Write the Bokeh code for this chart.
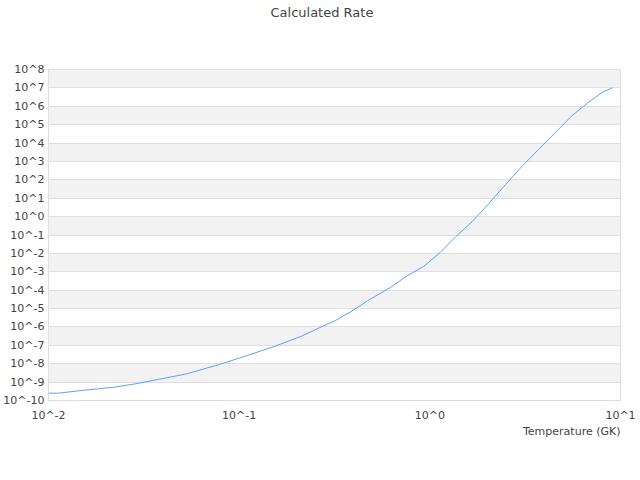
from bokeh.plotting import figure
from bokeh.models import FixedTicker, CustomJSTickFormatter, Title
from bokeh.embed import file_html
from bokeh.resources import INLINE

# Data
temperature_gk = [0.01, 0.0113, 0.0149, 0.0221, 0.0292, 0.0402, 0.053, 0.0787,
                  0.108, 0.155, 0.213, 0.259, 0.316, 0.386, 0.470, 0.621,
                  0.757, 0.925, 1.13, 1.37, 1.67, 2.05, 2.49, 3.04, 3.71,
                  4.52, 5.51, 6.73, 8.04, 9.06]
rate = [2.5e-10, 2.5e-10, 3.5e-10, 5.3e-10, 8.4e-10, 1.6e-9, 2.8e-9, 9.1e-9,
        2.6e-8, 9.1e-8, 3.2e-7, 8.3e-7, 2.1e-6, 6.8e-6, 2.6e-5, 1.4e-4,
        5.9e-4, 1.9e-3, 1.1e-2, 8.3e-2, 0.54, 5.5, 54.0, 537.0, 4.4e3,
        3.5e4, 2.8e5, 1.55e6, 5.75e6, 1.0e7]
x_ticks = [0.01, 0.1, 1.0, 10.0]
y_ticks = [10.0 ** k for k in range(-10, 9)]
title_text = "Calculated Rate"
x_label = "Temperature (GK)"

p = figure(
    output_backend="svg", toolbar_location=None,
    x_axis_type="log", y_axis_type="log",
    x_range=(0.01, 10.0), y_range=(1e-10, 1e8),
    width=640, height=460,
    min_border_left=0, min_border_right=20,
    min_border_top=69, min_border_bottom=60,
    title=title_text,
)
p.background_fill_color = "white"
p.border_fill_color = "white"
p.outline_line_color = "#dddddd"
p.outline_line_width = 1

xax = p.below[0]
yax = p.left[0]

fmt = CustomJSTickFormatter(code='return "10^" + Math.round(Math.log10(tick));')

for ax, ticks in ((xax, x_ticks), (yax, y_ticks)):
    ax.ticker = FixedTicker(ticks=ticks, minor_ticks=[])
    ax.formatter = fmt
    ax.major_tick_line_color = None
    ax.minor_tick_line_color = None
    ax.major_tick_out = 0
    ax.major_tick_in = 0
    ax.axis_line_color = None
    ax.major_label_text_font = "DejaVu Sans"
    ax.major_label_text_font_size = "11px"
    ax.major_label_text_color = "#444444"

yax.major_label_standoff = 4
xax.major_label_standoff = 8

# blank spacer between the frame and the title
spacer = Title(text=" ", standoff=33, text_font="DejaVu Sans",
               text_font_size="13px")
p.add_layout(spacer, "above")

# title
p.title.align = "left"
p.title.offset = 222
p.title.standoff = 0
p.title.text_font = "DejaVu Sans"
p.title.text_font_size = "13px"
p.title.text_font_style = "normal"
p.title.text_color = "#444444"

# x axis title, right-aligned under the axis
xt = Title(text=x_label, align="right", offset=0, vertical_align="top",
           standoff=0,
           text_font="DejaVu Sans", text_font_size="11px",
           text_font_style="normal", text_color="#444444")
p.add_layout(xt, "below")

p.xgrid.grid_line_color = None
p.ygrid.ticker = FixedTicker(ticks=y_ticks, minor_ticks=[])
p.ygrid.grid_line_color = "#dfdfdf"
p.ygrid.grid_line_width = 1
p.ygrid.band_fill_color = "#f2f2f2"
p.ygrid.band_fill_alpha = 1.0

p.line(temperature_gk, rate, line_color="#5aa2f0", line_width=1)

open("out.html", "w").write(file_html(p, INLINE))
